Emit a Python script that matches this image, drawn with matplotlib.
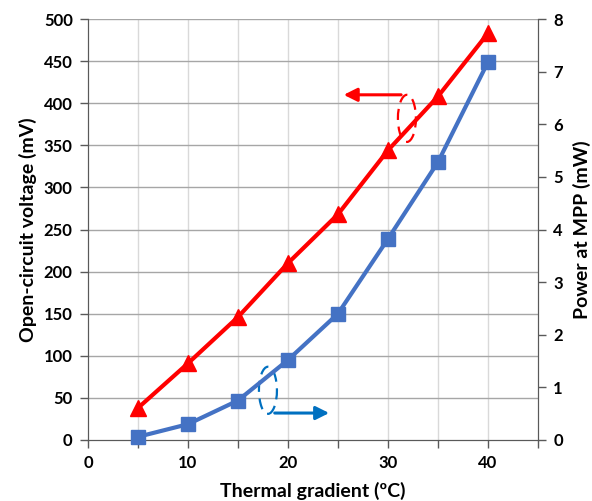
import matplotlib.pyplot as plt
from matplotlib.patches import Ellipse

plt.rcParams['font.family'] = ['Lato', 'DejaVu Sans']
plt.rcParams['font.weight'] = 'bold'

gradient = [5, 10, 15, 20, 25, 30, 35, 40]
voltage_mv = [38, 91, 146, 210, 268, 344, 408, 483]
power_mw = [0.06, 0.30, 0.75, 1.52, 2.40, 3.82, 5.28, 7.18]

fig = plt.figure(figsize=(5.92, 5.01), dpi=100)
ax1 = fig.add_axes([0.1486, 0.1218, 0.76, 0.8402])
ax2 = ax1.twinx()

# grid: light vertical lines, darker horizontal ones
for xv in range(5, 45, 5):
    ax1.axvline(xv, color='#d9d9d9', lw=1, zorder=0)
for yv in range(50, 501, 50):
    ax1.axhline(yv, color='#a6a6a6', lw=1, zorder=0)

ax1.plot(gradient, voltage_mv, color='#ff0000', lw=3, marker='^', ms=12,
         zorder=3, clip_on=False)
ax2.plot(gradient, power_mw, color='#4472c4', lw=3, marker='s', ms=10,
         zorder=3, clip_on=False)

ax1.set_xlim(0, 45)
ax1.set_ylim(0, 500)
ax2.set_ylim(0, 8)
ax1.set_xticks(range(0, 41, 10))
ax1.set_xticks(range(5, 46, 10), minor=True)
ax1.set_yticks(range(0, 501, 50))
ax2.set_yticks(range(0, 9))

for ax in (ax1, ax2):
    ax.tick_params(labelsize=12, length=6, width=1, color='#595959', pad=5)
    ax.tick_params(which='minor', length=6, width=1, color='#595959')
    for s in ax.spines.values():
        s.set_color('#595959')
    ax.spines['top'].set_visible(False)
ax2.patch.set_visible(False)

ax1.set_xlabel('Thermal gradient (ºC)', fontsize=14, fontweight='bold', labelpad=8)
ax1.set_ylabel('Open-circuit voltage (mV)', fontsize=14, fontweight='bold', labelpad=5)
ax2.set_ylabel('Power at MPP (mW)', fontsize=14, fontweight='bold', labelpad=7)

# markers pointing each curve to its axis
ax1.add_patch(Ellipse((31.9, 382), 1.8, 56, fill=False, ls=(0, (5, 3)),
                      ec='#ff0000', lw=1.6, zorder=4))
ax1.annotate('', xy=(25.3, 410), xytext=(31.6, 410),
             arrowprops=dict(arrowstyle='-|>,head_length=0.8,head_width=0.4',
                             color='#ff0000', lw=2.2))
ax1.add_patch(Ellipse((18.0, 59), 1.8, 56, fill=False, ls=(0, (5, 3)),
                      ec='#0070c0', lw=1.6, zorder=4))
ax1.annotate('', xy=(24.4, 32), xytext=(18.4, 32),
             arrowprops=dict(arrowstyle='-|>,head_length=0.8,head_width=0.4',
                             color='#0070c0', lw=2.2))

fig.savefig('out.png', dpi=100)
